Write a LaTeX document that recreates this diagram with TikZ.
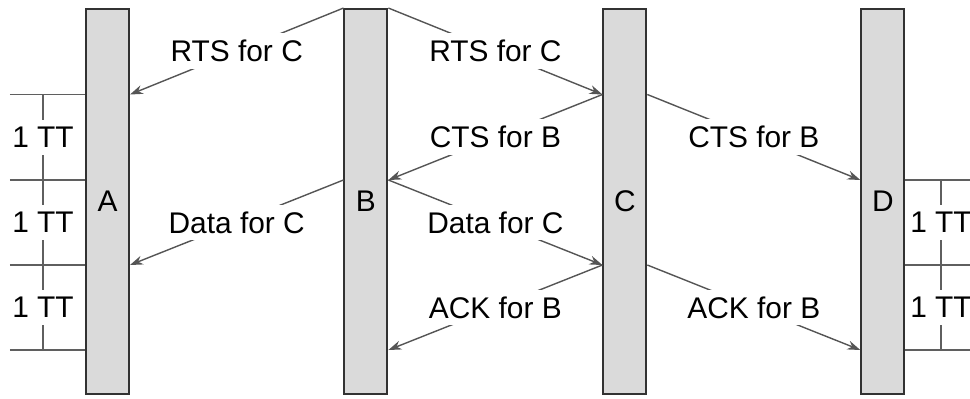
\documentclass[tikz,border=0pt]{standalone}
\usepackage{fontspec}
\setmainfont{Liberation Sans}
\usepackage{tikz}
\usetikzlibrary{arrows.meta, positioning, calc}
\definecolor{barfill}{RGB}{218,218,218}
\definecolor{barline}{RGB}{50,50,50}
\definecolor{msgcolor}{RGB}{85,85,85}
\definecolor{tickcolor}{RGB}{95,95,95}

\begin{document}
\begin{tikzpicture}[
    >={Stealth[length=2.6mm, width=1.8mm]},
    font=\fontsize{17}{20}\selectfont,
    bar/.style={draw=barline, fill=barfill, line width=1.1pt, minimum width=0.86cm, minimum height=7.7cm, inner sep=0pt},
    msg/.style={->, draw=msgcolor, line width=0.8pt},
    lbl/.style={fill=white, inner xsep=2pt, inner ysep=4pt},
    tick/.style={draw=tickcolor, line width=0.6pt},
]
    \useasboundingbox (0,0) rectangle (19.4,-7.96);
    % time slots, one TT apart
    \coordinate (t1) at (0,-1.89);
    \coordinate (t2) at (0,-3.6);
    \coordinate (t3) at (0,-5.3);
    \coordinate (t4) at (0,-7.0);
    \coordinate (lx) at (0.2,0);
    \coordinate (lv) at (0.86,0);
    \coordinate (rx) at (19.4,0);
    \coordinate (rv) at (18.82,0);

    \node[bar] (A) at (2.15,-4.03) {A};
    \node[bar, right=4.27cm of A] (B) {B};
    \node[bar, right=4.28cm of B] (C) {C};
    \node[bar, right=4.26cm of C] (D) {D};

    \draw[msg] (B.north west) -- node[lbl] (rts1) {RTS for C} (A.east |- t1);
    \draw[msg] (B.north east) -- node[lbl] (rts2) {RTS for C} (C.west |- t1);
    \draw[msg] (C.west |- t1) -- node[lbl] (cts1) {CTS for B} (B.east |- t2);
    \draw[msg] (C.east |- t1) -- node[lbl] (cts2) {CTS for B} (D.west |- t2);
    \draw[msg] (B.west |- t2) -- node[lbl] (data1) {Data for C} (A.east |- t3);
    \draw[msg] (B.east |- t2) -- node[lbl] (data2) {Data for C} (C.west |- t3);
    \draw[msg] (C.west |- t3) -- node[lbl] (ack1) {ACK for B} (B.east |- t4);
    \draw[msg] (C.east |- t3) -- node[lbl] (ack2) {ACK for B} (D.west |- t4);

    % TT scales beside A and D
    \foreach \t in {t1,t2,t3,t4}
        \draw[tick] (lx |- \t) -- (A.west |- \t);
    \foreach \a/\b [count=\i] in {t1/t2, t2/t3, t3/t4}
        \draw[tick] (lv |- \a) -- node[lbl] (ttl\i) {1 TT} (lv |- \b);
    \foreach \t in {t2,t3,t4}
        \draw[tick] (D.east |- \t) -- (rx |- \t);
    \foreach \a/\b [count=\i] in {t2/t3, t3/t4}
        \draw[tick] (rv |- \a) -- node[lbl] (ttr\i) {1 TT} (rv |- \b);
\end{tikzpicture}
\end{document}
